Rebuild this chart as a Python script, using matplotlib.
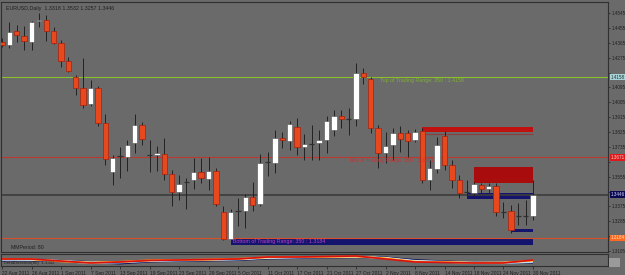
import matplotlib
matplotlib.use("Agg")
import matplotlib.pyplot as plt
import numpy as np

plt.rcParams["font.family"] = ["Liberation Sans", "DejaVu Sans"]

# ---- data (EURUSD daily, 22 Aug - 30 Nov 2011) ----
opens = [1.4370, 1.4352, 1.4436, 1.4406, 1.4370, 1.4497, 1.4503, 1.4436, 1.4364, 1.4255,
         1.4158, 1.4092, 1.3995, 1.4092, 1.3880, 1.3583, 1.3680, 1.3674, 1.3759, 1.3868,
         1.3686, 1.3686, 1.3692, 1.3571, 1.3462, 1.3523, 1.3535, 1.3583, 1.3541, 1.3589,
         1.3341, 1.3178, 1.3347, 1.3347, 1.3432, 1.3390, 1.3644, 1.3638, 1.3789, 1.3771,
         1.3856, 1.3735, 1.3753, 1.3759, 1.3777, 1.3838, 1.3922, 1.3904, 1.3904, 1.4182,
         1.4146, 1.3850, 1.3698, 1.3747, 1.3819, 1.3819, 1.3777, 1.3832, 1.3535, 1.3602,
         1.3801, 1.3626, 1.3535, 1.3462, 1.3456, 1.3505, 1.3481, 1.3499, 1.3341, 1.3347,
         1.3317, 1.3317, 1.3317]
highs = [1.4394, 1.4491, 1.4473, 1.4467, 1.4497, 1.4545, 1.4533, 1.4461, 1.4382, 1.4279,
         1.4170, 1.4273, 1.4140, 1.4104, 1.3934, 1.3686, 1.3735, 1.3777, 1.3934, 1.3886,
         1.3777, 1.3741, 1.3789, 1.3596, 1.3565, 1.3547, 1.3668, 1.3668, 1.3674, 1.3608,
         1.3378, 1.3360, 1.3426, 1.3450, 1.3523, 1.3692, 1.3704, 1.3838, 1.3825, 1.3892,
         1.3910, 1.3813, 1.3868, 1.3838, 1.3922, 1.3959, 1.3959, 1.3971, 1.4243, 1.4213,
         1.4158, 1.3868, 1.3825, 1.3850, 1.3862, 1.3838, 1.3844, 1.3850, 1.3656, 1.3795,
         1.3832, 1.3656, 1.3565, 1.3535, 1.3523, 1.3517, 1.3517, 1.3517, 1.3402, 1.3384,
         1.3396, 1.3414, 1.3535]
lows = [1.4340, 1.4334, 1.4370, 1.4322, 1.4322, 1.4461, 1.4376, 1.4358, 1.4219, 1.4188,
        1.4049, 1.3971, 1.3983, 1.3862, 1.3626, 1.3505, 1.3547, 1.3589, 1.3698, 1.3747,
        1.3583, 1.3589, 1.3535, 1.3378, 1.3414, 1.3360, 1.3481, 1.3517, 1.3475, 1.3378,
        1.3172, 1.3166, 1.3257, 1.3245, 1.3347, 1.3378, 1.3559, 1.3577, 1.3729, 1.3717,
        1.3686, 1.3656, 1.3656, 1.3656, 1.3698, 1.3801, 1.3850, 1.3807, 1.3862, 1.4116,
        1.3819, 1.3608, 1.3638, 1.3656, 1.3704, 1.3674, 1.3765, 1.3517, 1.3475, 1.3577,
        1.3596, 1.3487, 1.3426, 1.3432, 1.3438, 1.3456, 1.3456, 1.3317, 1.3305, 1.3214,
        1.3263, 1.3263, 1.3293]
closes = [1.4352, 1.4430, 1.4412, 1.4376, 1.4491, 1.4503, 1.4436, 1.4364, 1.4255, 1.4194,
          1.4092, 1.3989, 1.4092, 1.3880, 1.3662, 1.3668, 1.3680, 1.3747, 1.3868, 1.3783,
          1.3686, 1.3698, 1.3571, 1.3462, 1.3511, 1.3523, 1.3583, 1.3547, 1.3589, 1.3390,
          1.3178, 1.3341, 1.3347, 1.3432, 1.3384, 1.3638, 1.3644, 1.3789, 1.3777, 1.3874,
          1.3735, 1.3753, 1.3753, 1.3777, 1.3892, 1.3922, 1.3904, 1.3904, 1.4182, 1.4158,
          1.3850, 1.3698, 1.3741, 1.3819, 1.3783, 1.3771, 1.3825, 1.3535, 1.3608, 1.3747,
          1.3626, 1.3535, 1.3456, 1.3462, 1.3511, 1.3481, 1.3499, 1.3341, 1.3341, 1.3233,
          1.3317, 1.3317, 1.3444]

date_labels = ["22 Aug 2011", "26 Aug 2011", "1 Sep 2011", "7 Sep 2011", "13 Sep 2011",
               "19 Sep 2011", "23 Sep 2011", "29 Sep 2011", "5 Oct 2011", "11 Oct 2011",
               "17 Oct 2011", "21 Oct 2011", "27 Oct 2011", "2 Nov 2011", "8 Nov 2011",
               "14 Nov 2011", "18 Nov 2011", "24 Nov 2011", "30 Nov 2011"]
price_ticks = [1.4545, 1.4455, 1.4365, 1.4275, 1.4185, 1.4095, 1.4005, 1.3915, 1.3825,
               1.3735, 1.3645, 1.3555, 1.3465, 1.3375, 1.3285, 1.3195, 1.3105]

range_top, range_mid, range_bot = 1.4158, 1.3671, 1.3184
last_price = 1.3446

# zones: (first bar, last bar, low, high)
supply_band = (57, 72, 1.3825, 1.3856)
supply_zone = (64, 72, 1.3517, 1.3613)
demand_band = (63, 72, 1.3420, 1.3456)
demand_small = (69, 72, 1.3220, 1.3238)
demand_bottom = (31, 72, 1.3141, 1.3178)

# indicator ribbon, sampled every 4 bars
ind_x = [0, 4, 8, 12, 16, 20, 24, 28, 32, 36, 40, 44, 48, 52, 56, 60, 64, 68, 72]
ind_navy = [5.5, 5.5, 5.0, 4.0, 2.5, 4.5, 5.2, 5.5, 6.0, 7.5, 8.0, 8.5, 8.8, 8.5, 6.0, 4.5, 3.6, 3.3, 3.5]
ind_blue = [6.2, 6.0, 5.0, 2.8, 3.5, 5.0, 5.5, 6.0, 6.5, 8.0, 8.5, 8.8, 9.0, 8.2, 5.2, 4.2, 3.0, 2.8, 4.0]
ind_white = [6.5, 6.5, 5.2, 3.8, 4.0, 5.2, 5.8, 6.2, 6.8, 8.3, 8.7, 9.0, 9.3, 8.0, 4.8, 4.0, 3.6, 3.6, 4.8]
ind_yellow = [6.8, 6.6, 4.8, 3.4, 4.1, 5.5, 6.0, 6.4, 7.0, 8.6, 8.9, 9.1, 9.5, 7.8, 4.5, 3.9, 3.3, 3.4, 5.2]
ind_orange = [7.3, 6.8, 4.5, 3.2, 4.3, 5.8, 6.2, 6.6, 7.4, 8.8, 9.1, 9.3, 9.6, 7.5, 4.3, 3.8, 3.2, 3.4, 5.5]
ind_red = [7.0, 7.0, 5.0, 3.0, 4.0, 5.5, 6.0, 6.5, 7.0, 9.0, 9.0, 9.5, 10.0, 7.0, 4.0, 3.5, 3.0, 3.0, 6.0]

BG = "#6a6a6a"
W, H = 625, 275


def px_axes(fig, x0, y0, x1, y1):
    return fig.add_axes([x0 / W, 1 - y1 / H, (x1 - x0) / W, (y1 - y0) / H])


fig = plt.figure(figsize=(W / 100, H / 100), dpi=100, facecolor=BG)
ax = px_axes(fig, 1.5, 2, 608, 252)
axi = px_axes(fig, 1.5, 254, 608, 266)
for a in (ax, axi):
    a.set_facecolor(BG)
    for s in a.spines.values():
        s.set_color("#303030"); s.set_linewidth(0.8)
    a.set_xlim(-0.07, 82.17)

ax.set_ylim(1.3099, 1.4612)

# level lines
ax.axhline(range_top, color="#8cbf2c", lw=0.8)
ax.axhline(range_mid, color="#b83a30", lw=0.8)
ax.axhline(last_price, color="#3c3c3c", lw=1.2)
ax.axhline(range_bot, color="#d8502a", lw=0.8)

# zones
for (b0, b1, lo, hi), fc in ((supply_band, "#c01010"), (supply_zone, "#a80c0c"),
                             (demand_band, "#14146e"), (demand_small, "#14146e"),
                             (demand_bottom, "#14146e")):
    ax.add_patch(plt.Rectangle((b0, lo), b1 - b0, hi - lo, facecolor=fc, edgecolor="none", zorder=1))
ax.hlines(1.3813, supply_band[0], supply_band[1], color="#8a4040", lw=0.8, zorder=1)

# candles
x = np.arange(len(opens))
o, h, l, c = map(np.array, (opens, highs, lows, closes))
ax.vlines(x, l, h, color="#222222", lw=0.7, zorder=2)
up = c > o
dn = c < o
flat = c == o
bw = 0.72
ax.bar(x[up], (c - o)[up], bottom=o[up], width=bw, color="white", edgecolor="#505050", lw=0.4, zorder=3)
ax.bar(x[dn], (o - c)[dn], bottom=c[dn], width=bw, color="#e8481e", edgecolor="#a8200c", lw=0.5, zorder=3)
ax.hlines(o[flat], x[flat] - bw / 2, x[flat] + bw / 2, color="#303030", lw=0.9, zorder=3)

# texts
fs = 3.8
ax.text(0.007, 0.985, "EURUSD,Daily  1.3318 1.3532 1.3257 1.3446", transform=ax.transAxes,
        fontsize=fs, color="#202020", va="top")
ax.text(51.2, range_top - 0.0004, "Top of Trading Range: 350 : 1.4158", fontsize=fs,
        color="#7fb030", va="top")
ax.text(47.2, range_mid - 0.0003, "Mid of Trading Range: 350 : 1.3671", fontsize=fs,
        color="#d03030", va="top")
ax.text(31.3, range_bot - 0.0005, "Bottom of Trading Range: 350 : 1.3184", fontsize=fs,
        color="#c040c8", va="top")
ax.text(1.2, 1.3125, "MMPeriod: 80", fontsize=fs, color="#202020", va="center")

# price axis (labels hidden behind the level boxes are left blank)
boxes = ((range_top, "#a8d4d8", "#203030"), (range_mid, "#e01818", "#ffd0d0"),
         (last_price, "#0a0a50", "#d0d0ff"), (range_bot, "#ff6a20", "#ffe0c0"))
ax.yaxis.tick_right()
ax.set_yticks(price_ticks)
ax.set_yticklabels(["" if min(abs(p - b[0]) for b in boxes) < 0.0035 else f"{p:.4f}"
                    for p in price_ticks])
ax.tick_params(axis="y", labelsize=3.3, colors="#202020", length=1.5, width=0.5, pad=1)
ax.set_xticks([])
for lvl, fc, tc in boxes:
    ax.text(1.004, lvl, f"{lvl:.4f}", transform=ax.get_yaxis_transform(), fontsize=3.3,
            color=tc, va="center", ha="left",
            bbox=dict(boxstyle="square,pad=0.2", fc=fc, ec="none"), clip_on=False, zorder=5)

# indicator sub-window
axi.set_ylim(0, 12)
for vals, col, lw in ((ind_navy, "#101058", 1.4), (ind_blue, "#a8d8f8", 1.3), (ind_white, "#ffffff", 1.1),
                      (ind_yellow, "#ffd838", 1.1), (ind_orange, "#ff8010", 1.2), (ind_red, "#d81010", 1.2)):
    axi.plot(ind_x, vals, color=col, lw=lw, solid_capstyle="butt")
axi.text(0.003, 0.25, "TrendDirection(80)  1.3302", transform=axi.transAxes, fontsize=3.2,
         color="#202020", va="center")
axi.set_yticks([])
axi.set_xticks(range(0, len(opens), 4))
axi.set_xticklabels(date_labels, ha="left")
axi.tick_params(axis="x", labelsize=3.5, colors="#202020", length=2, width=0.5, pad=1.5)
fig.patches.append(plt.Rectangle((608.5 / W, 1 - 267 / H), 11 / W, 9 / H, transform=fig.transFigure,
                                 facecolor="#9a9a9a", edgecolor="none"))

fig.savefig("out.png", dpi=100, facecolor=BG)
